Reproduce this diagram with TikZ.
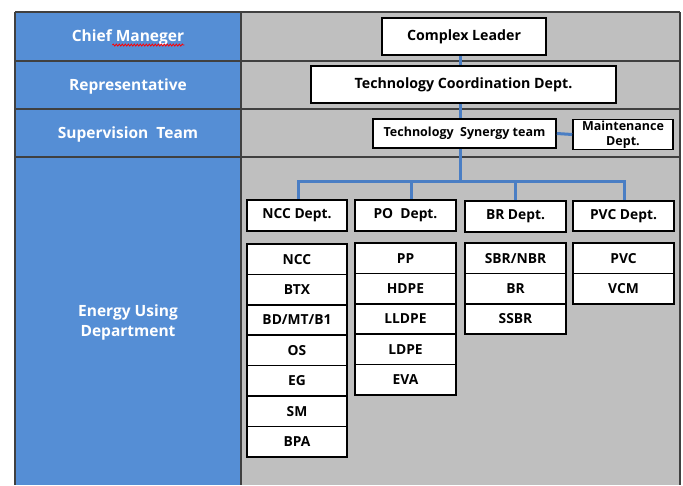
\documentclass[tikz,border=0pt]{standalone}
\usepackage{fontspec}
\setmainfont{Open Sans}
\usetikzlibrary{decorations.pathmorphing}
\definecolor{colblue}{RGB}{85,142,213}
\definecolor{panelgray}{RGB}{191,191,191}
\definecolor{linkblue}{RGB}{74,126,196}
\definecolor{gridline}{RGB}{64,64,64}
\newcommand\lblfont{\fontsize{15.5}{20}\selectfont\bfseries}
\newcommand\boxfont{\fontsize{13.8}{15}\selectfont\bfseries}
\begin{document}
\begin{tikzpicture}[x=1pt,y=-1pt,
  rowline/.style={draw=gridline,line width=1.6pt},
  lbl/.style={text=white,font=\lblfont,align=center,inner sep=0pt},
  box/.style={draw=black,fill=white,line width=1.6pt,font=\boxfont,inner sep=1pt,align=center},
  conn/.style={draw=linkblue,line width=3pt},
  spell/.style={draw=red,line width=0.8pt,decorate,
    decoration={snake,amplitude=1pt,segment length=3pt}}]
\useasboundingbox (0,0) rectangle (683,485);

% table background
\fill[panelgray] (241,12) rectangle (680,485);
\fill[colblue] (15,12) rectangle (241,485);
\foreach \yy in {12,61,109,157}
  \draw[rowline] (15,\yy) -- (680,\yy);
\draw[rowline] (15,12) -- (15,485);
\draw[rowline] (241,12) -- (241,485);
\draw[rowline] (680,12) -- (680,485);

% row titles
\node[lbl] (chief) at (128,37) {Chief Maneger};
\coordinate (wavyE) at ([yshift=-4pt]chief.base east);
\coordinate (wavyW) at ([xshift=-72pt]wavyE);
\draw[spell] (wavyW) -- (wavyE);
\node[lbl] (rep) at (128,86) {Representative};
\node[lbl] (sup) at (128,134) {Supervision\ \ Team};
\node[lbl] (energy) at (128,322) {Energy Using\\Department};

% management chain
\node[box,minimum width=164pt,minimum height=37pt,font=\fontsize{14.2}{15}\selectfont\bfseries] (lead) at (464,36.5) {Complex Leader};
\node[box,minimum width=305pt,minimum height=37pt,font=\fontsize{14.2}{15}\selectfont\bfseries] (tcd) at (463.5,84.5) {Technology Coordination Dept.};
\node[box,minimum width=183pt,minimum height=29pt,font=\fontsize{12.5}{15}\selectfont\bfseries] (tsy) at (464.5,133.5) {Technology\ \ Synergy team};
\node[box,minimum width=100pt,minimum height=30pt,font=\fontsize{12.5}{15}\selectfont\bfseries] (mnt) at (623,134.5) {Maintenance\\Dept.};

% departments
\node[box,minimum width=100pt,minimum height=31pt] (ncc) at (297,215.5) {NCC Dept.};
\node[box,minimum width=101pt,minimum height=31pt] (po) at (405.5,215.5) {PO\ \ Dept.};
\node[box,minimum width=101pt,minimum height=31pt] (br) at (515.5,216.5) {BR Dept.};
\node[box,minimum width=101pt,minimum height=30pt] (pvc) at (623.5,216) {PVC Dept.};

% connectors: trunk, side link and the bus over the departments
\coordinate (bus) at (460,181.5);
\coordinate (busW) at (298,181.5);
\coordinate (busPO) at (411,181.5);
\coordinate (busBR) at (515,181.5);
\coordinate (busE) at (624,181.5);
\draw[conn] (lead.south -| bus) -- (tcd.north -| bus);
\draw[conn] (tcd.south -| bus) -- (tsy.north -| bus);
\draw[conn] (tsy.east) -- (mnt.west);
\draw[conn] (tsy.south -| bus) -- (bus);
\draw[conn] (busW |- ncc.north) -- (busW) -- (busE) -- (busE |- pvc.north);
\draw[conn] (busPO) -- (busPO |- po.north);
\draw[conn] (busBR) -- (busBR |- br.north);

% plants under each department
\foreach \t [count=\i from 0] in {NCC,BTX,BD/MT/B1,OS,EG,SM,BPA}
  \node[box,minimum width=100pt,minimum height=30.4pt] (ncc\i) at (297,{259.2+30.4*\i}) {\t};
\foreach \t [count=\i from 0] in {PP,HDPE,LLDPE,LDPE,EVA}
  \node[box,minimum width=101pt,minimum height=30.4pt] (po\i) at (405.5,{258.2+30.4*\i}) {\t};
\foreach \t [count=\i from 0] in {SBR/NBR,BR,SSBR}
  \node[box,minimum width=101pt,minimum height=30.4pt] (br\i) at (515.5,{258.2+30.4*\i}) {\t};
\foreach \t [count=\i from 0] in {PVC,VCM}
  \node[box,minimum width=101pt,minimum height=30.4pt] (pvc\i) at (623.5,{258.2+30.4*\i}) {\t};
\end{tikzpicture}
\end{document}
